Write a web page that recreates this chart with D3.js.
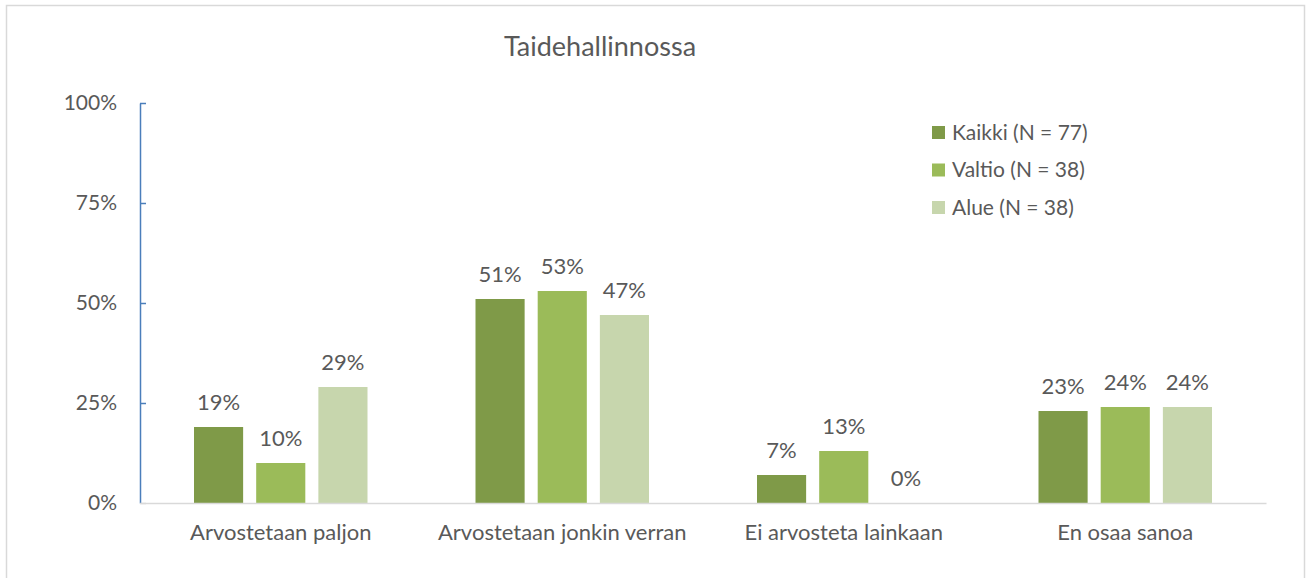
<!DOCTYPE html>
<html>
<head>
<meta charset="utf-8">
<script src="https://cdn.jsdelivr.net/npm/d3@7"></script>
<style>
  body { margin: 0; background: #fff; }
  svg text { font-family: Lato, "Open Sans", sans-serif; fill: #595959; }
</style>
</head>
<body>
<div id="chart"></div>
<script>
// chart data
var categories = ["Arvostetaan paljon", "Arvostetaan jonkin verran", "Ei arvosteta lainkaan", "En osaa sanoa"];
var seriesNames = ["Kaikki (N = 77)", "Valtio (N = 38)", "Alue (N = 38)"];
var kaikki = [19, 51, 7, 23];
var valtio = [10, 53, 13, 24];
var alue = [29, 47, 0, 24];
var yTicks = [0, 25, 50, 75, 100];

var colors = ["#7f9a48", "#9bbb59", "#c7d6ad"];
var series = [kaikki, valtio, alue];

var W = 1306, H = 578;
var margin = {top: 103, right: 40, bottom: 75, left: 140},
    width = 1266 - margin.left,
    height = 503 - margin.top;

var svg = d3.select("#chart").append("svg")
    .attr("width", W)
    .attr("height", H);

// outer border
svg.append("rect")
    .attr("x", 6.5).attr("y", 5.5)
    .attr("width", 1298).attr("height", 600)
    .attr("fill", "none")
    .attr("stroke", "#d9d9d9")
    .attr("stroke-width", 1.5);

svg.append("text")
    .attr("x", 600)
    .attr("y", 56)
    .attr("text-anchor", "middle")
    .attr("font-size", 27)
    .text("Taidehallinnossa");

var g = svg.append("g").attr("transform", "translate(" + margin.left + "," + margin.top + ")");

var x0 = d3.scaleBand().domain(categories).range([0, width]).paddingInner(0).paddingOuter(0);
var x1 = d3.scaleBand().domain(d3.range(seriesNames.length)).range([54, x0.bandwidth() - 54]).paddingInner(0.21);
var y = d3.scaleLinear().domain([0, 100]).range([height, 0]);

// bars
var groups = g.selectAll("g.cat")
    .data(categories)
    .enter().append("g")
    .attr("class", "cat")
    .attr("transform", function(d) { return "translate(" + x0(d) + ",0)"; });

groups.selectAll("rect")
    .data(function(d, i) { return series.map(function(s, k) { return {k: k, v: s[i]}; }); })
    .enter().append("rect")
    .attr("x", function(d) { return x1(d.k); })
    .attr("y", function(d) { return y(d.v); })
    .attr("width", x1.bandwidth())
    .attr("height", function(d) { return height - y(d.v); })
    .attr("fill", function(d) { return colors[d.k]; });

groups.selectAll("text.val")
    .data(function(d, i) { return series.map(function(s, k) { return {k: k, v: s[i]}; }); })
    .enter().append("text")
    .attr("class", "val")
    .attr("x", function(d) { return x1(d.k) + x1.bandwidth() / 2; })
    .attr("y", function(d) { return y(d.v) - 17; })
    .attr("text-anchor", "middle")
    .attr("font-size", 22)
    .text(function(d) { return d.v + "%"; });

// x axis
var xAxis = g.append("g")
    .attr("transform", "translate(0," + height + ")")
    .call(d3.axisBottom(x0).tickSize(0).tickPadding(21));
xAxis.select(".domain").attr("stroke", "#d9d9d9").attr("stroke-width", 1.5);
xAxis.selectAll("text").attr("font-size", 22).attr("fill", "#595959").attr("font-family", "Lato, sans-serif");

// y axis
var yAxis = g.append("g")
    .call(d3.axisRight(y).tickValues(yTicks).tickSize(6).tickSizeOuter(0).tickFormat(function(d) { return d + "%"; }));
yAxis.select(".domain").attr("stroke", "#4a7ebb").attr("stroke-width", 1.5);
yAxis.selectAll(".tick line").attr("stroke", "#4a7ebb").attr("stroke-width", 1.5);
yAxis.selectAll(".tick").filter(function(d) { return d === 0; }).select("line").attr("stroke", "#d9d9d9");
yAxis.selectAll("text")
    .attr("x", -23)
    .attr("text-anchor", "end")
    .attr("font-size", 21)
    .attr("font-family", "Lato, sans-serif")
    .attr("fill", "#595959");

// legend
var legend = svg.append("g")
    .selectAll("g")
    .data(seriesNames)
    .enter().append("g")
    .attr("transform", function(d, i) { return "translate(932," + (126 + i * 37.5) + ")"; });

legend.append("rect")
    .attr("width", 13)
    .attr("height", 13)
    .attr("fill", function(d, i) { return colors[i]; });

legend.append("text")
    .attr("x", 20)
    .attr("y", 6.5)
    .attr("dy", "0.35em")
    .attr("font-size", 21)
    .text(function(d) { return d; });
</script>
</body>
</html>
